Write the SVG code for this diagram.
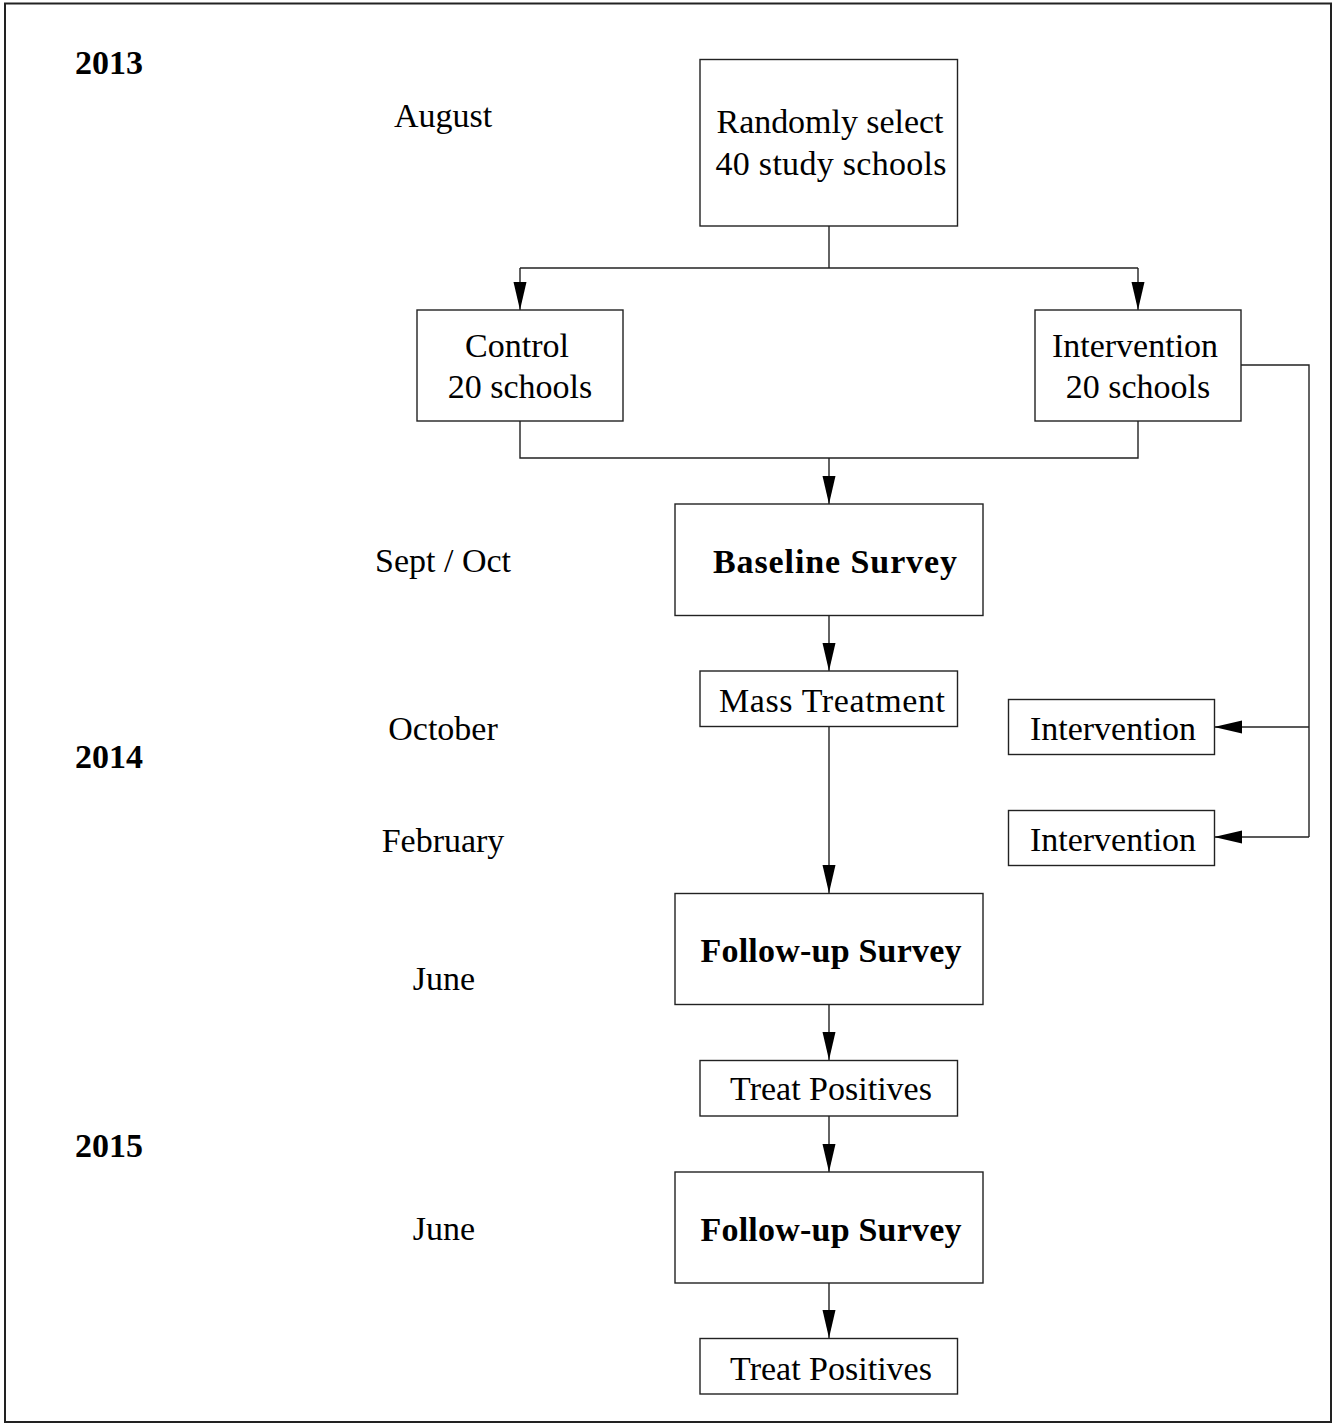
<svg xmlns="http://www.w3.org/2000/svg" width="1335" height="1425" viewBox="0 0 1335 1425">
  <style>
    text { font-family: "Liberation Serif", "Times New Roman", serif; font-size: 34px; fill: #000; }
    .c { text-anchor: middle; }
    .b { font-weight: bold; }
    .box { fill: #fff; stroke: #222; stroke-width: 1.4; }
    .ln { fill: none; stroke: #222; stroke-width: 1.4; }
  </style>
  <defs>
    <marker id="arr" markerUnits="userSpaceOnUse" markerWidth="28" markerHeight="14" refX="28" refY="7" orient="auto">
      <path d="M0,0.5 L28,7 L0,13.5 z" fill="#000"/>
    </marker>
  </defs>

  <rect x="0" y="0" width="1335" height="1425" fill="#fff"/>
  <!-- outer frame -->
  <rect x="5" y="3.5" width="1326" height="1418.5" fill="none" stroke="#222" stroke-width="2"/>

  <!-- timeline labels -->
  <g id="timeline">
    <text class="b" x="75" y="74">2013</text>
    <text class="b" x="75" y="768">2014</text>
    <text class="b" x="75" y="1157">2015</text>
    <text class="c" x="443" y="127">August</text>
    <text class="c" x="443" y="572">Sept / Oct</text>
    <text class="c" x="443" y="740">October</text>
    <text class="c" x="443" y="852">February</text>
    <text class="c" x="444" y="990">June</text>
    <text class="c" x="444" y="1240">June</text>
  </g>

  <!-- connectors -->
  <g id="connectors">
    <line class="ln" x1="829" y1="226" x2="829" y2="268"/>
    <line class="ln" x1="520" y1="268" x2="1138" y2="268"/>
    <line class="ln" x1="520" y1="268" x2="520" y2="310" marker-end="url(#arr)"/>
    <line class="ln" x1="1138" y1="268" x2="1138" y2="310" marker-end="url(#arr)"/>
    <polyline class="ln" points="520,421 520,458 1138,458 1138,421"/>
    <line class="ln" x1="829" y1="458" x2="829" y2="504" marker-end="url(#arr)"/>
    <polyline class="ln" points="1241,365 1309,365 1309,837"/>
    <line class="ln" x1="1309" y1="727" x2="1214" y2="727" marker-end="url(#arr)"/>
    <line class="ln" x1="1309" y1="837" x2="1214" y2="837" marker-end="url(#arr)"/>
    <line class="ln" x1="829" y1="616" x2="829" y2="671" marker-end="url(#arr)"/>
    <line class="ln" x1="829" y1="727" x2="829" y2="893" marker-end="url(#arr)"/>
    <line class="ln" x1="829" y1="1004" x2="829" y2="1060" marker-end="url(#arr)"/>
    <line class="ln" x1="829" y1="1116" x2="829" y2="1172" marker-end="url(#arr)"/>
    <line class="ln" x1="829" y1="1283" x2="829" y2="1338" marker-end="url(#arr)"/>
  </g>

  <g id="select">
    <rect class="box" x="700" y="59.5" width="257.5" height="166.5"/>
    <text class="c" x="830" y="133" textLength="227" lengthAdjust="spacing">Randomly select</text>
    <text class="c" x="831" y="175" textLength="231" lengthAdjust="spacing">40 study schools</text>
  </g>

  <g id="control">
    <rect class="box" x="417" y="310" width="206" height="111"/>
    <text class="c" x="517" y="357">Control</text>
    <text class="c" x="520" y="398">20 schools</text>
  </g>

  <g id="intervention-arm">
    <rect class="box" x="1035" y="310" width="206" height="111"/>
    <text class="c" x="1135" y="357">Intervention</text>
    <text class="c" x="1138" y="398">20 schools</text>
  </g>

  <g id="baseline">
    <rect class="box" x="675" y="504" width="308" height="111.5"/>
    <text class="c b" x="835" y="573" textLength="244" lengthAdjust="spacing">Baseline Survey</text>
  </g>

  <g id="mass-treatment">
    <rect class="box" x="700" y="671" width="257.5" height="55.5"/>
    <text class="c" x="832" y="712" textLength="226" lengthAdjust="spacing">Mass Treatment</text>
  </g>

  <g id="intervention-1">
    <rect class="box" x="1008.5" y="699.5" width="206" height="55"/>
    <text class="c" x="1113" y="740">Intervention</text>
  </g>

  <g id="intervention-2">
    <rect class="box" x="1008.5" y="810.5" width="206" height="55"/>
    <text class="c" x="1113" y="851">Intervention</text>
  </g>

  <g id="followup-1">
    <rect class="box" x="675" y="893.5" width="308" height="111"/>
    <text class="c b" x="831" y="962" textLength="261" lengthAdjust="spacing">Follow-up Survey</text>
  </g>

  <g id="treat-1">
    <rect class="box" x="700" y="1060.5" width="257.5" height="55.5"/>
    <text class="c" x="831" y="1100">Treat Positives</text>
  </g>

  <g id="followup-2">
    <rect class="box" x="675" y="1172" width="308" height="111"/>
    <text class="c b" x="831" y="1241" textLength="261" lengthAdjust="spacing">Follow-up Survey</text>
  </g>

  <g id="treat-2">
    <rect class="box" x="700" y="1338.5" width="257.5" height="55.5"/>
    <text class="c" x="831" y="1380">Treat Positives</text>
  </g>
</svg>
